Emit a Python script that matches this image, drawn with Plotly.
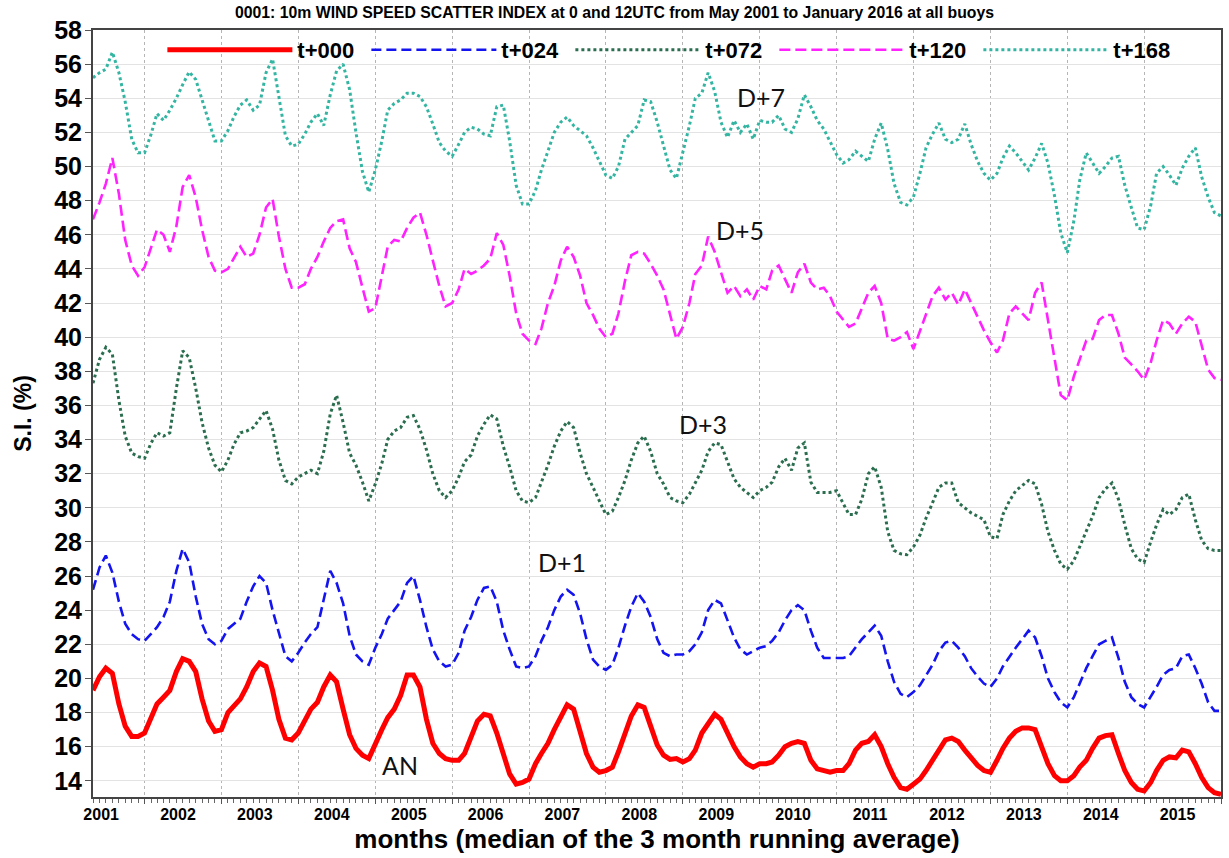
import pandas as pd
import plotly.graph_objects as go

months = pd.date_range("2001-05-01", "2016-01-01", freq="MS")

# S.I. (%) values, monthly from May 2001 to January 2016
t000 = [19.3, 20.1, 20.6, 20.3, 18.5, 17.2, 16.6, 16.6,
        16.8, 17.8, 18.5, 18.9, 19.3, 20.4, 21.15, 21.0, 20.4, 18.8, 17.5, 16.9,
        17.0, 18.0, 18.4, 18.8, 19.5, 20.4, 20.9, 20.7, 19.3, 17.6, 16.5, 16.4,
        16.8, 17.5, 18.2, 18.6, 19.5, 20.2, 19.8, 18.2, 16.7, 15.9, 15.5, 15.3,
        16.2, 17.0, 17.7, 18.2, 19.0, 20.2, 20.2, 19.5, 17.6, 16.2, 15.6, 15.3,
        15.2, 15.2, 15.6, 16.6, 17.5, 17.9, 17.8, 16.8, 15.5, 14.4, 13.8, 13.9,
        14.1, 15.0, 15.6, 16.2, 17.0, 17.8, 18.45, 18.2, 17.0, 15.6, 14.8, 14.5,
        14.6, 14.8, 15.7, 16.8, 17.8, 18.45, 18.3, 17.2, 16.1, 15.5, 15.25, 15.3,
        15.1, 15.3, 15.8, 16.8, 17.4, 17.9, 17.6, 16.8, 16.0, 15.4, 15.0, 14.8,
        15.0, 15.0, 15.1, 15.5, 16.0, 16.2, 16.3, 16.2, 15.2, 14.7, 14.6, 14.5,
        14.6, 14.6, 15.0, 15.8, 16.2, 16.3, 16.7, 16.0, 15.0, 14.2, 13.6, 13.5,
        13.8, 14.1, 14.6, 15.2, 15.8, 16.4, 16.5, 16.3, 15.8, 15.3, 14.9, 14.6,
        14.5, 15.2, 15.9, 16.5, 16.9, 17.1, 17.1, 17.0, 15.9, 15.0, 14.3, 14.0,
        14.0, 14.3, 14.8, 15.2, 15.9, 16.5, 16.65, 16.7, 15.6, 14.6, 13.9, 13.5,
        13.4, 13.9, 14.6, 15.2, 15.4, 15.35, 15.8, 15.7, 15.0, 14.2, 13.6, 13.3,
        13.2]

t024 = [25.2, 26.5, 27.2, 26.2, 24.5, 23.2, 22.6, 22.3,
        22.2, 22.6, 23.0, 23.6, 24.5, 26.3, 27.6, 26.8, 24.8, 23.2, 22.3, 22.0,
        22.2, 22.9, 23.2, 23.5, 24.5, 25.4, 26.0, 25.6, 24.0, 22.6, 21.3, 21.0,
        21.5, 22.1, 22.6, 23.0, 24.6, 26.3, 25.6, 24.4, 22.5, 21.4, 21.0, 20.8,
        21.8, 22.6, 23.5, 24.0, 24.5, 25.6, 26.0, 24.6, 23.0, 21.7, 21.0, 20.7,
        20.8, 21.5, 22.8, 23.6, 24.6, 25.3, 25.4, 24.5, 22.8, 21.7, 20.7, 20.6,
        20.7, 21.3, 22.2, 23.0, 24.0, 24.8, 25.2, 24.9, 23.8, 22.3, 21.1, 20.7,
        20.5, 20.8, 21.8, 23.1, 24.2, 25.0, 24.5, 23.6, 22.3, 21.5, 21.3, 21.4,
        21.4, 21.6, 22.0, 22.7, 24.0, 24.6, 24.4, 23.4, 22.4, 21.7, 21.4, 21.6,
        21.8, 21.9, 22.2, 22.7, 23.4, 24.0, 24.3, 24.0, 22.8, 21.8, 21.2, 21.2,
        21.2, 21.2, 21.3, 21.8, 22.3, 22.7, 23.1, 22.5, 21.0, 19.8, 19.1, 18.9,
        19.2, 19.6, 20.2, 20.8, 21.6, 22.1, 22.2, 21.8, 21.3, 20.6, 20.1, 19.7,
        19.5, 20.0, 20.7, 21.3, 21.8, 22.3, 22.8, 22.4, 21.3, 20.0, 19.2, 18.6,
        18.3, 18.9, 19.7, 20.6, 21.3, 22.0, 22.2, 22.4, 21.2, 19.8, 18.9, 18.5,
        18.3, 18.9, 19.5, 20.2, 20.5, 20.6, 21.3, 21.4, 20.6, 19.7, 18.6, 18.1,
        18.1]

t072 = [37.3, 38.7, 39.4, 39.0, 36.3, 34.2, 33.2, 33.0,
        32.9, 33.8, 34.4, 34.2, 34.4, 37.0, 39.2, 38.8, 37.0, 35.0, 33.5, 32.5,
        32.1, 32.8, 33.7, 34.4, 34.5, 34.7, 35.2, 35.7, 34.6, 32.8, 31.6, 31.4,
        31.8, 32.0, 32.2, 32.0, 33.3, 35.5, 36.6, 35.0, 33.2, 32.5, 31.5, 30.4,
        31.4, 32.6, 34.0, 34.5, 34.7, 35.3, 35.4, 34.6, 33.4, 32.0, 31.0, 30.6,
        31.0, 31.8, 32.7, 33.1, 34.2, 34.9, 35.45, 35.2, 33.6, 32.4, 31.0, 30.4,
        30.3, 30.6, 31.5, 32.5, 33.6, 34.5, 35.05, 34.7, 33.2, 32.0, 31.2, 30.4,
        29.6, 29.8, 30.6, 31.6, 32.8, 33.8, 34.2, 33.3, 32.0, 31.4, 30.6, 30.4,
        30.3, 30.8, 31.5, 32.2, 33.3, 33.8, 33.7, 32.7, 31.7, 31.2, 30.9, 30.6,
        31.0, 31.2, 31.5, 32.4, 32.9, 32.2, 33.5, 33.8, 31.5, 30.9, 30.9, 30.9,
        31.0, 30.3, 29.6, 29.6, 30.5, 32.0, 32.4, 31.2, 28.6, 27.5, 27.3, 27.25,
        27.7, 28.4, 29.4, 30.3, 31.2, 31.45, 31.45, 30.3, 30.0, 29.7, 29.5, 29.3,
        28.3, 28.2, 29.6, 30.4, 31.0, 31.3, 31.6, 31.4, 30.2, 28.6, 27.5, 26.7,
        26.4, 26.9, 27.7, 28.6, 29.5, 30.6, 31.1, 31.45, 30.5, 29.0, 27.6, 27.0,
        26.8, 28.0, 29.0, 29.9, 29.6, 29.9, 30.6, 30.8, 29.3, 28.1, 27.6, 27.5,
        27.5]

t120 = [46.9, 47.9, 49.0, 50.5, 48.4, 45.7, 44.2, 43.6,
        44.1, 45.3, 46.3, 46.0, 45.0, 46.5, 48.8, 49.5, 48.2, 46.3, 44.7, 43.9,
        43.8, 44.0, 44.6, 45.3, 44.7, 44.9, 46.0, 47.6, 48.1, 45.9, 44.0, 42.9,
        42.9, 43.1, 44.0, 44.7, 45.6, 46.4, 46.8, 46.9, 45.2, 44.4, 42.9, 41.5,
        41.7, 43.5, 45.3, 45.7, 45.6, 46.4, 47.0, 47.3, 46.0, 44.5, 43.0, 41.8,
        42.0, 42.8, 44.0, 43.7, 43.9, 44.2, 44.6, 46.1, 45.4, 43.6, 41.4, 40.2,
        39.8, 39.6, 40.5, 42.0, 43.0, 44.5, 45.3, 44.7, 43.6, 42.0, 41.3, 40.5,
        40.0, 40.2, 41.4, 43.3, 44.8, 45.0, 44.9, 44.3, 43.6, 42.8, 41.4, 39.9,
        40.6, 42.0, 43.7, 44.2, 45.9, 45.0, 43.8, 42.6, 43.0, 42.4, 42.8, 42.2,
        43.0, 42.8, 43.9, 44.2, 43.4, 42.6, 43.8, 44.3, 43.2, 42.8, 42.9, 42.4,
        41.5, 41.0, 40.6, 40.8, 41.7, 42.6, 43.0, 42.0, 39.9, 39.8, 40.0, 40.3,
        39.3, 40.4, 41.3, 42.4, 42.9, 42.2, 42.6, 41.9, 42.8, 42.0, 41.2, 40.4,
        39.7, 39.1, 39.8, 41.4, 41.8, 41.4, 41.0, 42.6, 43.2, 41.0, 38.8, 36.6,
        36.3, 37.7, 38.7, 39.8, 39.9, 41.0, 41.3, 41.3, 40.2, 38.8, 38.4, 38.0,
        37.5, 38.5, 39.8, 41.0, 40.8, 40.2, 40.8, 41.2, 40.9, 39.5, 38.1, 37.6,
        37.5]

t168 = [55.2, 55.5, 55.7, 56.7, 55.5, 53.8, 51.6, 50.8,
        50.8, 51.9, 53.1, 52.7, 53.3, 54.0, 54.8, 55.55, 55.1, 53.9, 52.6, 51.5,
        51.5, 52.1, 52.9, 53.6, 53.9, 53.3, 53.6, 55.5, 56.3, 54.0, 51.8, 51.2,
        51.3, 51.9, 52.6, 53.1, 52.4, 54.2, 55.6, 56.0, 54.5, 52.0, 49.7, 48.5,
        49.8, 51.5, 53.3, 53.7, 53.9, 54.3, 54.3, 54.1, 53.5, 52.5, 51.4, 50.9,
        50.6, 51.3, 52.0, 52.3, 52.2, 51.9, 51.8, 53.5, 53.6, 51.5, 48.9, 47.8,
        47.8, 48.6, 49.8, 50.9, 52.0, 52.6, 52.9, 52.4, 52.1, 51.8, 51.1, 50.3,
        49.5, 49.3, 50.0, 51.6, 52.0, 52.4, 53.9, 53.8, 52.6, 51.2, 49.8, 49.3,
        50.8, 52.4, 54.0, 54.3, 55.5, 54.4, 52.6, 51.7, 52.7, 52.0, 52.5, 51.6,
        52.7, 52.6, 52.6, 53.0, 52.2, 52.0, 52.8, 54.2, 53.5, 52.7, 52.2, 51.5,
        50.7, 50.2, 50.4, 50.9, 50.6, 50.3, 51.6, 52.55, 51.0, 49.0, 47.9, 47.75,
        48.2, 49.6, 51.1, 51.9, 52.55, 51.6, 51.4, 51.6, 52.5, 51.3, 50.3, 49.6,
        49.2, 49.6, 50.5, 51.2, 50.8, 50.3, 49.8, 50.5, 51.35, 50.2, 48.3, 46.1,
        44.95, 46.8, 49.2, 50.8, 50.2, 49.6, 50.0, 50.5, 50.6, 48.9, 47.6, 46.4,
        46.3, 47.7, 49.6, 50.0, 49.5, 48.9, 49.9, 50.6, 51.1, 49.4, 48.2, 47.3,
        47.1]

series_names = ["t+000", "t+024", "t+072", "t+120", "t+168"]
series_values = [t000, t024, t072, t120, t168]
series_colors = ["#ff0000", "#1414f0", "#2b6e4f", "#ff22ff", "#33b5a2"]
series_dash = ["solid", "10px,5px", "3px,3px", "11px,5px", "3px,3px"]
series_width = [5, 2.6, 3, 2.6, 3]

labels = ["D+7", "D+5", "D+3", "D+1", "AN"]
label_x = ["2010-01-07", "2009-09-28", "2009-04-06", "2007-06-06", "2005-04-28"]
label_y = [54.1, 46.3, 34.9, 26.8, 14.9]

BOLD = dict(family="Liberation Sans, Arial, sans-serif", weight="bold", color="#000")

fig = go.Figure()
for name, vals, col, dash, w in zip(series_names, series_values, series_colors,
                                    series_dash, series_width):
    fig.add_trace(go.Scatter(x=months, y=vals, mode="lines", name=name,
                             line=dict(color=col, dash=dash, width=w)))

for t, xx, yy in zip(labels, label_x, label_y):
    fig.add_annotation(x=xx, y=yy, text=t, showarrow=False,
                       font=dict(family="Lato, Open Sans, sans-serif", size=25, color="#111"))

fig.update_layout(
    width=1229, height=858,
    paper_bgcolor="white", plot_bgcolor="white",
    margin=dict(l=93, r=8, t=30, b=61, autoexpand=False),
    title=dict(text="0001: 10m WIND SPEED SCATTER INDEX at 0 and 12UTC from May 2001 to January 2016 at all buoys",
               x=0.5, xanchor="center", y=1 - 12 / 858, yanchor="middle",
               font=dict(BOLD, size=15.8)),
    legend=dict(orientation="h", x=0.0615, y=0.974, xanchor="left", yanchor="middle",
                itemwidth=125, entrywidth=64, entrywidthmode="pixels",
                bgcolor="rgba(0,0,0,0)", font=dict(BOLD, size=22), traceorder="normal"),
    showlegend=True,
)

fig.update_xaxes(
    type="date", range=[months[0], months[-1]],
    tickformat="%Y", dtick="M12", tick0="2001-01-01", ticklabelmode="period",
    ticklabelshift=-5, ticklabelstandoff=-3,
    showgrid=True, gridcolor="#b5b5b5", griddash="dot", gridwidth=1,
    ticks="outside", ticklen=5, tickcolor="#555",
    minor=dict(dtick="M1", ticks="outside", ticklen=4, tickcolor="#666", showgrid=False),
    showline=True, linecolor="#444", linewidth=2, mirror=True,
    tickfont=dict(BOLD, size=16),
    title=dict(text="months (median of the 3 month running average)",
               font=dict(BOLD, size=26), standoff=8),
)
fig.update_yaxes(
    range=[13.05, 58], dtick=2, tick0=0,
    showgrid=True, gridcolor="#e3e3e3", gridwidth=1,
    ticks="outside", ticklen=6, tickcolor="#555", ticklabelstandoff=-2,
    showline=True, linecolor="#444", linewidth=2, mirror=True,
    tickfont=dict(BOLD, size=25),
    title=dict(text="S.I. (%)", font=dict(BOLD, size=23), standoff=16),
)

fig.write_html("out.html", config={"displayModeBar": False},
               post_script="document.body.style.margin='0px';")
